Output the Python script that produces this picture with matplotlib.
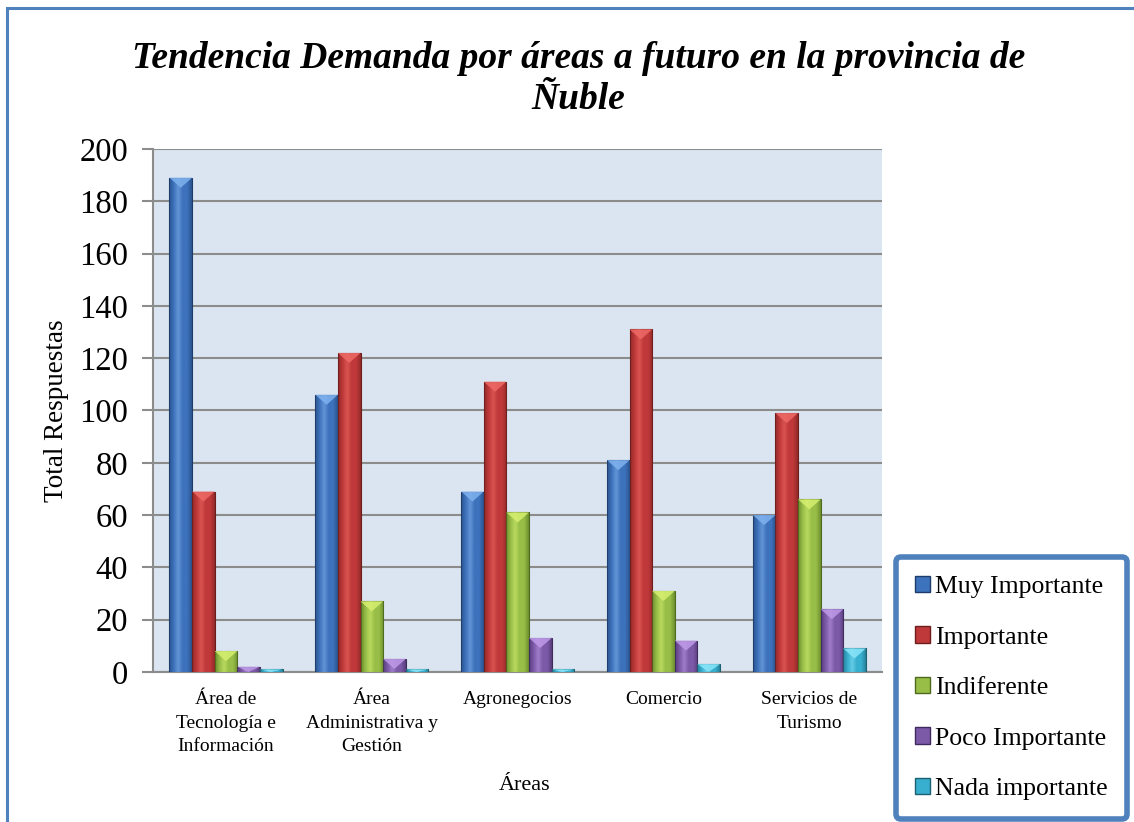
import numpy as np
import matplotlib
matplotlib.use("Agg")
import matplotlib.pyplot as plt
from matplotlib.patches import Patch, Polygon, Rectangle
from matplotlib.colors import LinearSegmentedColormap, to_rgb

# --- data ---
areas = ["Área de\nTecnología e\nInformación", "Área\nAdministrativa y\nGestión",
         "Agronegocios", "Comercio", "Servicios de\nTurismo"]
series = ["Muy Importante", "Importante", "Indiferente", "Poco Importante", "Nada importante"]
muy_importante = [189, 106, 69, 81, 60]
importante = [69, 122, 111, 131, 99]
indiferente = [8, 27, 61, 31, 66]
poco_importante = [2, 5, 13, 12, 24]
nada_importante = [1, 1, 1, 3, 9]
yticks = [0, 20, 40, 60, 80, 100, 120, 140, 160, 180, 200]

values = [muy_importante, importante, indiferente, poco_importante, nada_importante]
faces = ["#3d72bc", "#c0393a", "#98be48", "#7c5aa8", "#38afcf"]
edges = ["#1d3c6a", "#6e1d1d", "#4e6a1d", "#3f2a5e", "#1c6072"]
tops = ["#7fb2ee", "#ee6a66", "#d6f070", "#bf9ae8", "#8ae6fa"]

plt.rcParams["font.family"] = ["Liberation Serif", "DejaVu Serif"]

fig = plt.figure(figsize=(11.34, 8.22), dpi=100)
ax = fig.add_axes([0.135, 0.1825, 0.643, 0.6363])
ax.set_facecolor("#dbe5f1")

x = np.arange(len(areas))
w = 0.155
px_per_unit = 523 / 200.0

for k, (vals, fc, ec, tc) in enumerate(zip(values, faces, edges, tops)):
    pos = x + (k - 2) * w
    bars = ax.bar(pos, vals, w, color=fc, edgecolor=ec, linewidth=0.8, zorder=3)
    cmap = LinearSegmentedColormap.from_list(
        "g", [to_rgb(ec), to_rgb(fc), to_rgb(tc), to_rgb(fc), to_rgb(fc), to_rgb(ec)])
    grad = np.linspace(0, 1, 64).reshape(1, -1)
    for b in bars:
        x0, h = b.get_x(), b.get_height()
        im = ax.imshow(grad, extent=[x0, x0 + w, 0, h], aspect="auto", cmap=cmap,
                       alpha=0.55, zorder=3.5, interpolation="bilinear")
        im.set_clip_path(b)
        d = min(h, 10 / px_per_unit)
        tri = Polygon([(x0, h), (x0 + w, h), (x0 + w / 2, h - d)], closed=True,
                      facecolor=tc, edgecolor="none", alpha=0.85, zorder=4)
        ax.add_patch(tri)

ax.set_xlim(-0.5, len(areas) - 0.5)
ax.set_ylim(0, 200)
ax.set_yticks(yticks)
ax.set_yticklabels([str(t) for t in yticks], fontsize=23.5)
ax.set_xticks(x)
ax.set_xticklabels(areas, fontsize=14, linespacing=1.5, va="top")
ax.tick_params(axis="x", length=0, pad=14)
ax.tick_params(axis="y", length=8, width=1.5, color="#8c8c8c", pad=10)
ax.grid(axis="y", color="#8c8c8c", linewidth=1.5, zorder=1)
ax.set_axisbelow(True)
for s in ["top", "right"]:
    ax.spines[s].set_visible(False)
for s in ["left", "bottom"]:
    ax.spines[s].set_color("#8c8c8c")
    ax.spines[s].set_linewidth(1.5)

ax.set_ylabel("Total Respuestas", fontsize=19.5)
ax.yaxis.set_label_coords(-0.116, 0.5)
ax.set_xlabel("Áreas", fontsize=16)
ax.xaxis.set_label_coords(0.51, -0.198)

fig.text(0.51, 0.904, "Tendencia Demanda por áreas a futuro en la provincia de\nÑuble",
         ha="center", va="center", fontsize=27, fontweight="bold", fontstyle="italic",
         linespacing=1.25)

handles = [Patch(facecolor=fc, edgecolor=ec) for fc, ec in zip(faces, edges)]
leg = fig.legend(handles, series, loc="center", bbox_to_anchor=(0.892, 0.163),
                 fontsize=18.5, handlelength=0.6, handleheight=0.6, handletextpad=0.2,
                 labelspacing=1.1, borderpad=0.75, borderaxespad=0.0,
                 fancybox=True, framealpha=1)
leg.get_frame().set_edgecolor("#4f81bd")
leg.get_frame().set_linewidth(4)

# outer chart border
fig.patches.append(Rectangle((7 / 1134, -0.1), 1.2, 1.09, transform=fig.transFigure,
                             fill=False, edgecolor="#4f81bd", linewidth=2.2))

fig.savefig("out.png", dpi=100)
